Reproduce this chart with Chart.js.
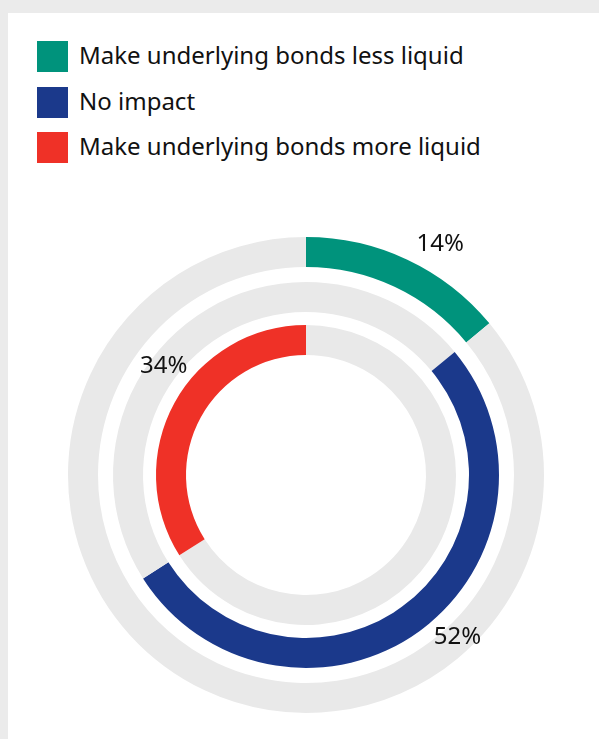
<!DOCTYPE html>
<html>
<head>
<meta charset="utf-8">
<script src="https://cdn.jsdelivr.net/npm/chart.js@4"></script>
<style>
  html, body { margin: 0; padding: 0; background: #ebebeb; }
  body { width: 599px; height: 739px; position: relative; overflow: hidden; font-family: "Noto Sans", sans-serif; }
  #panel { position: absolute; left: 8px; top: 13px; right: 0; bottom: 0; background: #fff; }
  #legend { position: absolute; left: 37px; top: 41px; }
  .item { position: absolute; left: 0; height: 31px; white-space: nowrap; }
  .box { position: absolute; left: 0; top: 0; width: 31px; height: 31px; }
  .lbl { position: absolute; left: 42px; top: -3px; font-size: 24px; line-height: 34px; color: #111; }
  #wrap { position: absolute; left: 0; top: 0; width: 599px; height: 739px; }
</style>
</head>
<body>
<div id="panel"></div>
<div id="legend"></div>
<div id="wrap"><canvas id="myChart1"></canvas></div>
<script>
// 데이터
const categories = ['Make underlying bonds less liquid', 'No impact', 'Make underlying bonds more liquid'];
const values = [14, 52, 34];
const pctLabels = ['14%', '52%', '34%'];
const colors = ['#00937c', '#1b398b', '#ef3127'];
const trackColor = '#e9e9e9';

// legend
const legend = document.getElementById('legend');
const legendTops = [0, 46, 91];
categories.forEach((c, i) => {
    const d = document.createElement('div');
    d.className = 'item';
    d.style.top = legendTops[i] + 'px';
    d.innerHTML = '<div class="box" style="background:' + colors[i] + '"></div><div class="lbl">' + c + '</div>';
    legend.appendChild(d);
});

// ring data: each ring shows one category on a gray track
const before1 = values[0];
const before2 = values[0] + values[1];
const rings = [
    { data: [values[0], 100 - values[0]], bg: [colors[0], trackColor], hit: 0 },
    { data: [before1, values[1], 100 - before1 - values[1]], bg: [trackColor, colors[1], trackColor], hit: 1 },
    { data: [before2, values[2]], bg: [trackColor, colors[2]], hit: 1 }
];

const ringWeight = 30;
const datasets = [
    { data: rings[0].data, backgroundColor: rings[0].bg, weight: ringWeight, borderWidth: 0 },
    { data: [1], backgroundColor: ['rgba(0,0,0,0)'], weight: 15, borderWidth: 0 },
    { data: rings[1].data, backgroundColor: rings[1].bg, weight: ringWeight, borderWidth: 0 },
    { data: [1], backgroundColor: ['rgba(0,0,0,0)'], weight: 13, borderWidth: 0 },
    { data: rings[2].data, backgroundColor: rings[2].bg, weight: ringWeight, borderWidth: 0 }
];
const ringDatasetIndex = [0, 2, 4];
const labelAngleShift = [5, -7, 8.6]; // degrees
const labelGap = 29;

const pctPlugin = {
    id: 'pctLabels',
    afterDatasetsDraw(chart) {
        const ctx = chart.ctx;
        ctx.save();
        ctx.font = '24px "Noto Sans", sans-serif';
        ctx.fillStyle = '#111';
        ctx.textAlign = 'center';
        ctx.textBaseline = 'middle';
        ringDatasetIndex.forEach((di, i) => {
            const arc = chart.getDatasetMeta(di).data[rings[i].hit];
            const p = arc.getProps(['x', 'y', 'startAngle', 'endAngle', 'outerRadius'], true);
            const mid = (p.startAngle + p.endAngle) / 2 + labelAngleShift[i] * Math.PI / 180;
            const r = p.outerRadius + labelGap;
            ctx.fillText(pctLabels[i], p.x + Math.cos(mid) * r, p.y + Math.sin(mid) * r);
        });
        ctx.restore();
    }
};

const ctx = document.getElementById('myChart1').getContext('2d');
const myChart1 = new Chart(ctx, {
    type: 'doughnut',
    data: { labels: categories, datasets: datasets },
    options: {
        responsive: true,
        maintainAspectRatio: false,
        animation: false,
        radius: 238,
        cutout: (120 / 238 * 100) + '%',
        layout: { padding: { left: 13, right: 0, top: 211, bottom: 0 } },
        plugins: {
            legend: { display: false },
            tooltip: { enabled: false }
        },
        events: []
    },
    plugins: [pctPlugin]
});
</script>
</body>
</html>
